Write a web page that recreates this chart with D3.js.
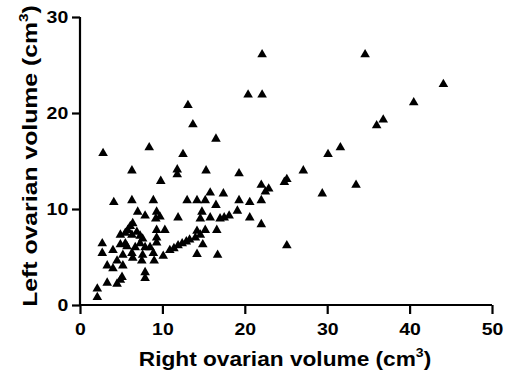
<!DOCTYPE html>
<html>
<head>
<meta charset="utf-8">
<script src="https://cdn.jsdelivr.net/npm/d3@7"></script>
<style>
  html, body { margin: 0; padding: 0; background: #fff; }
  svg { display: block; }
  text { font-family: "Liberation Sans", Arial, sans-serif; font-weight: bold; }
</style>
</head>
<body>
<svg id="chart" width="505" height="385"></svg>
<script>
// Right ovarian volume (cm3)
const rightVolume = [
  13.1, 22.1, 34.6, 20.4, 22.1, 44.1, 40.5, 36.8, 36.0, 31.6,
  30.1, 27.1, 19.3, 22.0, 22.5, 22.9, 24.8, 25.1, 29.4, 33.5,
  19.3, 20.6, 22.0, 19.1, 20.6, 22.0, 25.1, 17.4, 18.1, 17.5,
  17.0, 16.7, 13.7, 16.5, 2.8, 8.4, 12.5, 6.3, 11.8, 11.8,
  15.3, 9.8, 4.1, 6.3, 8.9, 13.0, 14.2, 15.2, 15.8, 16.5,
  9.3, 9.7, 9.2, 11.9, 14.8, 14.6, 15.8, 9.3, 10.3, 9.3,
  9.3, 14.2, 15.2, 16.6, 10.9, 11.4, 11.9, 12.4, 12.9, 13.3,
  14.0, 14.6, 14.9, 8.9, 10.1, 9.0, 14.2, 7.0, 7.9, 6.4,
  6.1, 4.9, 5.5, 5.8, 6.3, 6.9, 7.3, 7.6, 2.7, 2.7,
  4.0, 4.9, 5.5, 5.7, 6.7, 7.3, 7.9, 8.5, 5.2, 6.3,
  6.4, 7.6, 7.5, 4.5, 3.3, 4.0, 5.2, 7.9, 7.9, 5.1,
  4.9, 4.5, 3.3, 2.1, 2.1
];
// Left ovarian volume (cm3)
const leftVolume = [
  20.8, 26.1, 26.1, 21.9, 21.9, 23.0, 21.1, 19.3, 18.7, 16.4,
  15.7, 14.0, 13.7, 12.5, 11.8, 12.1, 12.8, 13.1, 11.6, 12.5,
  10.9, 10.7, 10.9, 9.8, 9.1, 8.4, 6.2, 11.6, 9.3, 9.1,
  9.0, 5.2, 18.8, 17.3, 15.8, 16.4, 15.7, 14.0, 14.1, 13.6,
  14.0, 12.9, 10.7, 10.9, 10.9, 10.9, 10.9, 10.9, 11.7, 10.4,
  9.7, 9.2, 9.0, 9.1, 9.7, 9.0, 9.1, 7.8, 7.8, 7.0,
  6.5, 7.7, 7.8, 7.8, 5.7, 5.9, 6.2, 6.4, 6.6, 6.8,
  7.0, 7.3, 6.3, 5.4, 5.1, 4.6, 5.3, 9.7, 9.3, 8.5,
  8.2, 7.3, 7.5, 7.8, 7.3, 7.6, 7.2, 6.9, 6.4, 5.4,
  5.7, 6.3, 6.4, 6.1, 6.0, 6.4, 6.0, 6.0, 5.2, 5.4,
  4.9, 5.2, 4.6, 4.6, 4.1, 3.8, 4.1, 3.4, 2.8, 2.9,
  2.6, 2.2, 2.3, 1.7, 0.8
];
const xTicks = [0, 10, 20, 30, 40, 50];
const yTicks = [0, 10, 20, 30];
const xTitle = "Right ovarian volume (cm";
const yTitle = "Left ovarian volume (cm";

const stretch = 1.18;
const svg = d3.select("#chart");
const x = d3.scaleLinear().domain([0, 50]).range([80, 492]);
const y = d3.scaleLinear().domain([0, 30]).range([305, 17]);

const xAxis = svg.append("g")
  .attr("transform", "translate(0,305)")
  .call(d3.axisBottom(x).tickValues(xTicks).tickSize(9).tickPadding(9).tickFormat(d3.format("d")));
const yAxis = svg.append("g")
  .attr("transform", "translate(80,0)")
  .call(d3.axisLeft(y).tickValues(yTicks).tickSize(8).tickPadding(2).tickFormat(d3.format("d")));

[xAxis, yAxis].forEach(g => {
  g.select(".domain").attr("stroke", "#000").attr("stroke-width", 2.2);
  g.selectAll(".tick line").attr("stroke", "#000").attr("stroke-width", 2.2);
  g.selectAll(".tick text").attr("fill", "#000").attr("font-size", 16.5)
    .attr("font-family", "Liberation Sans, Arial, sans-serif").attr("font-weight", "bold")
    .attr("transform", `scale(${stretch},1)`);
});
xAxis.select(".domain").attr("d", "M80,0H492");
yAxis.select(".domain").attr("d", "M0,17V305");

const tri = d3.symbol().type(d3.symbolTriangle).size(40);
svg.append("g").selectAll("path")
  .data(rightVolume.map((v, i) => [v, leftVolume[i]]))
  .join("path")
  .attr("d", tri)
  .attr("transform", d => `translate(${x(d[0])},${y(d[1])})`)
  .attr("fill", "#000");

const xt = svg.append("text")
  .attr("transform", `translate(285,366) scale(1.08,1)`)
  .attr("text-anchor", "middle").attr("font-size", 21).attr("fill", "#000");
xt.append("tspan").text(xTitle);
xt.append("tspan").attr("font-size", 13).attr("dy", -9).text("3");
xt.append("tspan").attr("dy", 9).text(")");

const yt = svg.append("text")
  .attr("transform", `translate(37,156) rotate(-90) scale(${stretch},1)`)
  .attr("text-anchor", "middle").attr("font-size", 21).attr("fill", "#000");
yt.append("tspan").text(yTitle);
yt.append("tspan").attr("font-size", 13).attr("dy", -9).text("3");
yt.append("tspan").attr("dy", 9).text(")");
</script>
</body>
</html>
